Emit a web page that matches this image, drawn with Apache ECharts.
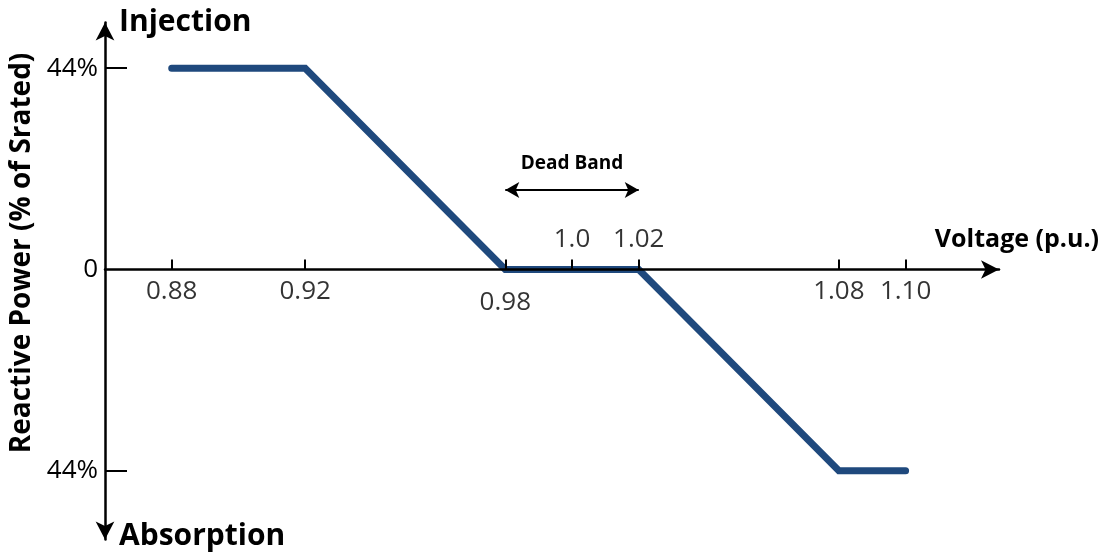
<!DOCTYPE html>
<html>
<head>
<meta charset="utf-8">
<script src="https://cdn.jsdelivr.net/npm/echarts@6/dist/echarts.min.js"></script>
<style>
  html, body { margin: 0; padding: 0; background: #ffffff; }
  #chart { width: 1116px; height: 555px; }
</style>
</head>
<body>
<div id="chart"></div>
<script>
// ---- data ----
const voltage = [0.88, 0.92, 0.98, 1.02, 1.08, 1.10];
const reactivePower = [44, 44, 0, 0, -44, -44];

const xTickValues = [0.88, 0.92, 0.98, 1.0, 1.02, 1.08, 1.10];
const xLabelsBelow = [0.88, 0.92, 0.98, 1.08, 1.10];
const xLabelsBelowText = ['0.88', '0.92', '0.98', '1.08', '1.10'];
const xLabelsAbove = [1.0, 1.02];
const xLabelsAboveText = ['1.0', '1.02'];
const yTickValues = [-44, 44];
const yLabelValues = [-44, 0, 44];
const yLabelText = ['44%', '0', '44%'];
const deadBand = [0.98, 1.02];
const deadBandArrowLevel = 17.4;

// ---- chart ----
const FONT = "'Open Sans', 'Liberation Sans', sans-serif";
const chart = echarts.init(document.getElementById('chart'), null, { renderer: 'canvas' });

function labelFor(values, texts) {
  return function (v) {
    for (let i = 0; i < values.length; i++) {
      if (Math.abs(values[i] - v) < 1e-6) return texts[i];
    }
    return '';
  };
}

const labelStyle = { fontFamily: FONT, fontSize: 26, color: '#000000' };

const option = {
  animation: false,
  backgroundColor: '#ffffff',
  grid: { left: 105, right: 117, top: 22.5, bottom: 15.6, containLabel: false, outerBoundsMode: 'none' },
  xAxis: {
    type: 'value', min: 0.86, max: 1.128, z: 5,
    axisLine: { show: true, onZero: true, symbol: ['none', 'arrow'], symbolSize: [14, 18],
      lineStyle: { color: '#000', width: 2.5 } },
    axisTick: { show: true, inside: true, length: 10, customValues: xTickValues,
      lineStyle: { color: '#000', width: 2 } },
    axisLabel: { show: false },
    splitLine: { show: false }
  },
  yAxis: {
    type: 'value', min: -59, max: 54, z: 5,
    name: 'Reactive Power (% of Srated)',
    nameLocation: 'middle', nameGap: 68, nameRotate: 90,
    nameTextStyle: { fontFamily: FONT, fontSize: 28, fontWeight: 'bold', color: '#000', padding: [0, 0, 0, 56] },
    axisLine: { show: true, onZero: false, symbol: ['arrow', 'arrow'], symbolSize: [14, 18],
      lineStyle: { color: '#000', width: 2.5 } },
    axisTick: { show: true, inside: true, length: 22, customValues: yTickValues,
      lineStyle: { color: '#000', width: 2 } },
    axisLabel: { show: true, customValues: yLabelValues, margin: 7,
      fontFamily: FONT, fontSize: 26, color: '#000000',
      formatter: labelFor(yLabelValues, yLabelText) },
    splitLine: { show: false }
  },
  series: [
    {
      type: 'line',
      data: voltage.map((v, i) => [v, reactivePower[i]]),
      showSymbol: false,
      symbol: 'none',
      lineStyle: { color: '#1F497D', width: 7, cap: 'round', join: 'miter' },
      z: 2,
      markLine: {
        silent: true,
        symbol: ['arrow', 'arrow'],
        symbolSize: [12, 14],
        lineStyle: { color: '#000', width: 2, type: 'solid' },
        label: {
          show: true, position: 'middle', formatter: 'Dead Band', distance: 17,
          fontFamily: FONT, fontSize: 19, fontWeight: 'bold', color: '#000'
        },
        data: [[
          { coord: [deadBand[0], deadBandArrowLevel] },
          { coord: [deadBand[1], deadBandArrowLevel] }
        ]]
      }
    },
    {
      // tick labels below the voltage axis
      type: 'scatter', silent: true, z: 6,
      symbolSize: 1, itemStyle: { color: 'rgba(0,0,0,0)' },
      label: Object.assign({ show: true, position: 'bottom', distance: 9,
        formatter: p => xLabelsBelowText[p.dataIndex] }, labelStyle),
      data: xLabelsBelow.map(v => Math.abs(v - 0.98) < 1e-6
        ? { value: [v, 0], label: { distance: 20 } }
        : { value: [v, 0] })
    },
    {
      // tick labels above the voltage axis
      type: 'scatter', silent: true, z: 6,
      symbolSize: 1, itemStyle: { color: 'rgba(0,0,0,0)' },
      label: Object.assign({ show: true, position: 'top', distance: 16,
        formatter: p => xLabelsAboveText[p.dataIndex] }, labelStyle),
      data: xLabelsAbove.map(v => [v, 0])
    }
  ],
  graphic: [
    { type: 'text', left: 119, top: 7, style: { text: 'Injection', font: "bold 30px " + FONT, fill: '#000' } },
    { type: 'text', left: 119, top: 521, style: { text: 'Absorption', font: "bold 30px " + FONT, fill: '#000' } },
    { type: 'text', right: 17, top: 227, style: { text: 'Voltage (p.u.)', font: "bold 25px " + FONT, fill: '#000' } }
  ]
};
chart.setOption(option);
</script>
</body>
</html>
